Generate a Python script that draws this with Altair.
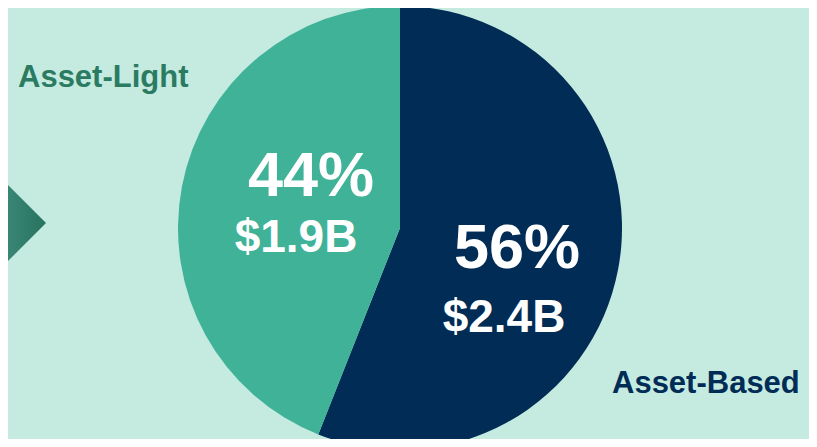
import altair as alt
import pandas as pd

segments = ["Asset-Based", "Asset-Light"]
shares = [56, 44]
amounts = ["$2.4B", "$1.9B"]
pct_labels = ["56%", "44%"]

df = pd.DataFrame({"segment": segments, "share": shares,
                   "amount": amounts, "pct": pct_labels})

NAVY = "#002C55"
TEAL = "#40B298"
BG = "#C5EBE1"
DARKTEAL = "#2B7B63"
FONT = "Liberation Sans"
OX, OY = 8, 8  # page margin

base = alt.Chart(df)

pie = base.mark_arc(radius=222, stroke=None).encode(
    theta=alt.Theta("share:Q", stack=True),
    order=alt.Order("segment:N", sort="ascending"),
    color=alt.Color("segment:N", scale=alt.Scale(domain=segments, range=[NAVY, TEAL]), legend=None),
    x=alt.value(400 - OX),
    y=alt.value(228 - OY),
)

arrow = base.transform_filter(alt.datum.segment == "Asset-Light").mark_point(
    shape="M-1,-1L0,0L-1,1Z",
    filled=True,
    size=8281,
    strokeWidth=0,
    opacity=1,
    fill=alt.Gradient(gradient="linear", x1=0, x2=1, y1=0, y2=0,
                      stops=[alt.GradientStop(offset=0, color="#3E8A7B"),
                             alt.GradientStop(offset=1, color="#27735F")]),
).encode(x=alt.value(46 - OX), y=alt.value(223 - OY))


def txt(seg, field, cx, by, size, color, align="center"):
    return base.transform_filter(alt.datum.segment == seg).mark_text(
        font=FONT, fontWeight="bold", fontSize=size, color=color,
        align=align, baseline="alphabetic",
    ).encode(text=f"{field}:N", x=alt.value(cx - OX), y=alt.value(by - OY))


layers = [
    pie,
    arrow,
    txt("Asset-Light", "pct", 311, 196, 63, "white"),
    txt("Asset-Light", "amount", 296, 252, 46, "white"),
    txt("Asset-Based", "pct", 517, 268, 63, "white"),
    txt("Asset-Based", "amount", 504, 332, 46, "white"),
    txt("Asset-Light", "segment", 18, 87, 31, DARKTEAL, align="left"),
    txt("Asset-Based", "segment", 612, 393, 31, NAVY, align="left"),
]

chart = alt.layer(*layers).properties(
    width=801, height=431, background=BG, padding=0,
    autosize=alt.AutoSizeParams(type="none"),
).configure_view(stroke=None)

chart.save("out.html", embed_options={"renderer": "svg", "actions": False})
